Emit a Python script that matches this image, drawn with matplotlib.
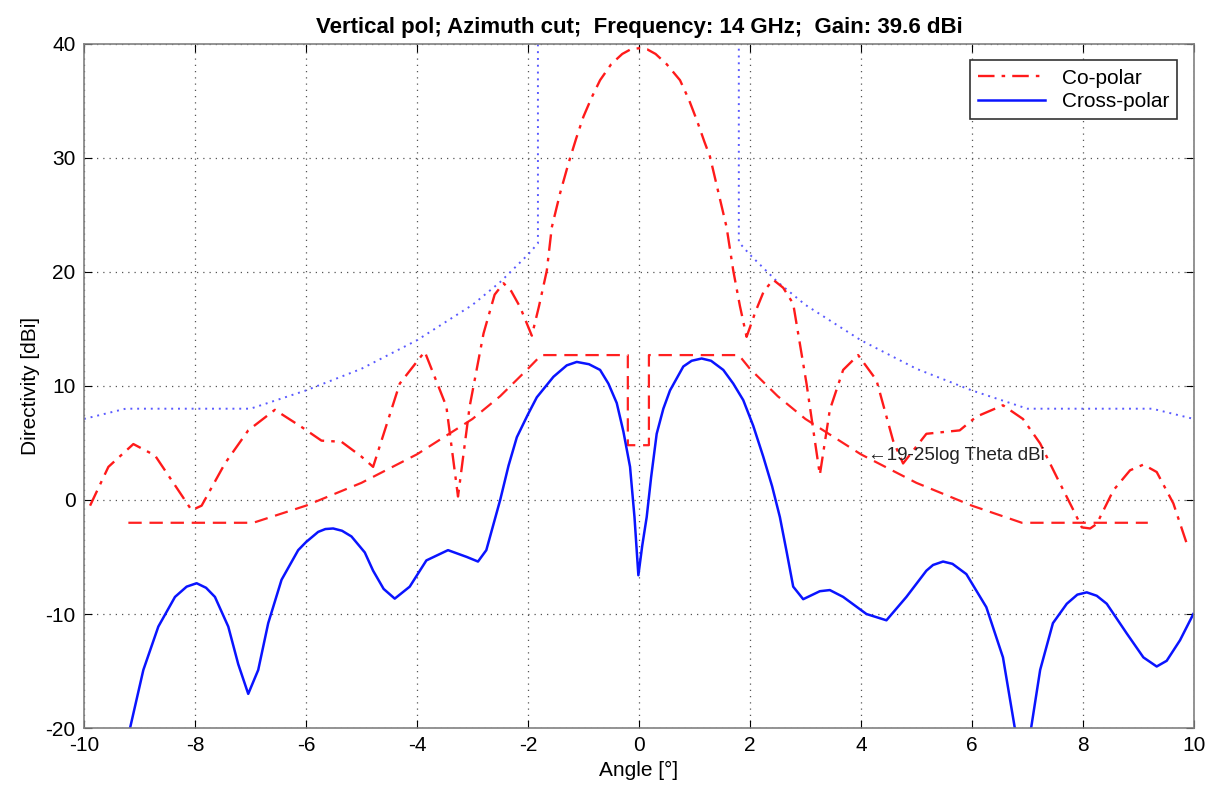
import matplotlib
matplotlib.use("Agg")
import matplotlib.pyplot as plt

plt.rcParams['font.family'] = ['Liberation Sans Narrow', 'Liberation Sans', 'DejaVu Sans']
plt.rcParams['axes.unicode_minus'] = False

#------------------------------------------------------------------------------
# Data
#------------------------------------------------------------------------------

co_x = [-9.89, -9.56, -9.11, -8.72, -8.30, -8.06, -7.88, -7.46, -7.04, -6.56,
        -6.08, -5.72, -5.36, -5.00, -4.79, -4.31, -3.86, -3.47, -3.26, -3.05,
        -2.80, -2.60, -2.44, -2.30, -2.14, -1.93, -1.80, -1.66, -1.57, -1.42,
        -1.27, -1.13, -1.00, -0.85, -0.70, -0.50, -0.30, -0.15, 0.00, 0.15,
        0.30, 0.50, 0.74, 0.90, 1.05, 1.18, 1.28, 1.43, 1.58, 1.70,
        1.82, 1.94, 2.10, 2.25, 2.42, 2.60, 2.78, 3.02, 3.26, 3.44,
        3.68, 3.95, 4.28, 4.58, 4.76, 5.18, 5.78, 6.08, 6.56, 6.92,
        7.23, 7.53, 7.83, 7.98, 8.13, 8.25, 8.55, 8.85, 9.09, 9.33,
        9.63, 9.87]
co_y = [-0.5, 2.9, 4.9, 3.9, 0.85, -0.9, -0.5, 3.2, 6.1, 7.9,
        6.4, 5.2, 5.1, 3.8, 2.9, 10.2, 13.0, 8.2, 0.3, 8.2,
        14.6, 18.0, 19.0, 18.3, 16.9, 14.4, 17.0, 20.1, 23.9, 26.9,
        29.5, 31.7, 33.6, 35.3, 36.8, 38.2, 39.1, 39.5, 39.6, 39.5,
        39.1, 38.2, 36.8, 35.1, 33.2, 31.4, 30.1, 27.0, 23.9, 20.1,
        17.0, 14.3, 16.5, 18.3, 19.3, 18.6, 17.2, 10.2, 2.2, 7.9,
        11.4, 12.7, 10.5, 5.2, 3.2, 5.8, 6.1, 7.3, 8.3, 7.1,
        4.95, 2.0, -0.9, -2.4, -2.5, -2.1, 0.85, 2.6, 3.1, 2.45,
        -0.3, -3.8]

cx_x = [-9.30, -9.17, -8.93, -8.66, -8.36, -8.15, -7.97, -7.80, -7.64, -7.40,
        -7.22, -7.04, -6.86, -6.68, -6.44, -6.14, -6.00, -5.78, -5.65, -5.51,
        -5.35, -5.18, -4.94, -4.79, -4.60, -4.40, -4.13, -3.83, -3.44, -3.10,
        -2.90, -2.75, -2.50, -2.35, -2.20, -2.00, -1.84, -1.54, -1.30, -1.12,
        -0.90, -0.70, -0.55, -0.40, -0.28, -0.16, -0.08, -0.01, 0.06, 0.14,
        0.22, 0.32, 0.44, 0.56, 0.80, 0.95, 1.13, 1.30, 1.52, 1.70,
        1.88, 2.06, 2.24, 2.40, 2.54, 2.66, 2.78, 2.96, 3.26, 3.44,
        3.68, 4.10, 4.46, 4.82, 5.18, 5.30, 5.48, 5.65, 5.90, 6.26,
        6.56, 6.77, 6.92, 7.07, 7.23, 7.46, 7.71, 7.90, 8.07, 8.25,
        8.43, 8.79, 9.09, 9.33, 9.51, 9.75, 9.99]
cx_y = [-21.5, -20.0, -14.9, -11.1, -8.5, -7.6, -7.3, -7.7, -8.5, -11.1,
        -14.4, -17.0, -14.9, -10.8, -7.0, -4.4, -3.7, -2.8, -2.55, -2.5,
        -2.7, -3.2, -4.6, -6.2, -7.8, -8.65, -7.6, -5.3, -4.4, -5.0,
        -5.4, -4.4, 0.0, 3.0, 5.5, 7.5, 9.0, 10.8, 11.8, 12.1,
        11.9, 11.4, 10.2, 8.5, 6.0, 2.9, -1.5, -6.6, -4.0, -1.5,
        2.0, 5.8, 8.0, 9.6, 11.7, 12.2, 12.4, 12.2, 11.4, 10.2,
        8.75, 6.5, 3.8, 1.2, -1.5, -4.5, -7.6, -8.7, -8.0, -7.9,
        -8.5, -10.0, -10.55, -8.5, -6.2, -5.7, -5.4, -5.6, -6.5, -9.4,
        -13.8, -19.9, -23.0, -19.9, -14.9, -10.8, -9.1, -8.3, -8.1, -8.4,
        -9.1, -11.7, -13.8, -14.6, -14.1, -12.3, -10.0]

# 29-25log(theta) envelope (dotted)
env_x = [-10.0, -9.25, -7.0, -6.0, -5.0, -4.0, -3.0, -2.5, -2.0, -1.82, -1.82,
         1.80, 1.80, 2.0, 2.5, 3.0, 4.0, 5.0, 6.0, 7.0, 9.25, 10.0]
env_y = [7.1, 8.0, 8.0, 9.6, 11.5, 14.0, 17.1, 19.1, 21.5, 22.5, 41.0,
         41.0, 22.6, 21.5, 19.1, 17.1, 14.0, 11.5, 9.6, 8.0, 8.0, 7.1]

# 19-25log(theta) mask (dashed)
mask_x = [-9.20, -6.95, -6.0, -5.0, -4.0, -3.0, -2.5, -2.0, -1.76, -0.20, -0.20,
          0.18, 0.18, 1.80, 2.0, 2.5, 3.0, 4.0, 5.0, 6.0, 6.90, 9.17]
mask_y = [-2.0, -2.0, -0.5, 1.5, 4.0, 7.1, 9.1, 11.5, 12.7, 12.7, 4.8,
          4.8, 12.7, 12.7, 11.5, 9.1, 7.1, 4.0, 1.5, -0.5, -2.0, -2.0]

#------------------------------------------------------------------------------
# Plot
#------------------------------------------------------------------------------

fig = plt.figure(figsize=(12.17, 7.94), dpi=100)
ax = fig.add_axes([0.069, 0.083, 0.912, 0.862])

ax.plot(env_x, env_y, color="#5a5aff", linestyle=(0, (1, 2.5)), linewidth=1.4)
ax.plot(mask_x, mask_y, color="#ff2020", linestyle=(0, (6, 3.5)), linewidth=1.6)
co, = ax.plot(co_x, co_y, color="#ff1a1a", linestyle=(0, (7, 3, 1.5, 3)),
              linewidth=1.7, label="Co-polar")
cx, = ax.plot(cx_x, cx_y, color="#0a14ff", linewidth=1.8, label="Cross-polar")

ax.text(4.12, 3.9, "\u219019-25log Theta dBi", fontsize=13.5, va="center",
        ha="left", color="#222222")

ax.set_xlim(-10, 10)
ax.set_ylim(-20, 40)
ax.set_xticks(range(-10, 11, 2))
ax.set_yticks(range(-20, 41, 10))
ax.tick_params(direction="in", top=True, right=True, length=6, labelsize=15,
               pad=6)
for s in ax.spines.values():
    s.set_color("#808080")
    s.set_linewidth(1.2)

ax.grid(True, color="#555555", linestyle=(0, (1, 4)), linewidth=0.9)

ax.set_title("Vertical pol; Azimuth cut;  Frequency: 14 GHz;  Gain: 39.6 dBi",
             fontsize=16, fontweight="bold", pad=8)
ax.set_xlabel("Angle [\u00b0]", fontsize=15, labelpad=4)
ax.set_ylabel("Directivity [dBi]", fontsize=15, labelpad=4)

leg = ax.legend(handles=[co, cx], loc="upper right", fontsize=15,
                fancybox=False, framealpha=1, edgecolor="#333333",
                handlelength=3.2, borderaxespad=0.8, labelspacing=0.2)
leg.get_frame().set_linewidth(1.2)

fig.savefig("out.png", dpi=100, facecolor="white")
